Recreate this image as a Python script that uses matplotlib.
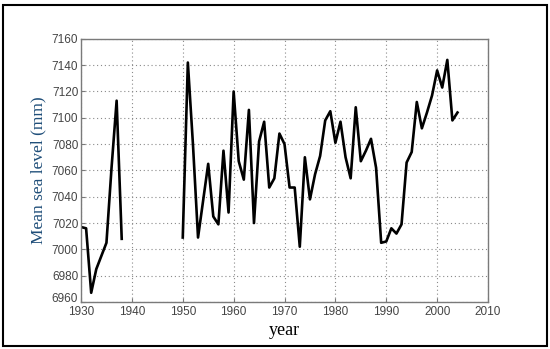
import numpy as np
import matplotlib
matplotlib.use("Agg")
import matplotlib.pyplot as plt
from matplotlib.patches import Rectangle
from matplotlib.transforms import ScaledTranslation

# annual mean sea level, gap 1939-1949
years_early = [1930, 1931, 1932, 1933, 1934, 1935, 1936, 1937, 1938]
msl_early = [7017, 7016, 6967, 6985, 6995, 7005, 7062, 7113, 7008]

years_late = list(range(1950, 2005))
msl_late = [7009, 7142, 7080, 7009, 7037, 7065, 7025, 7019, 7075, 7028,
            7120, 7067, 7053, 7106, 7020, 7082, 7097, 7047, 7054, 7088,
            7080, 7047, 7047, 7002, 7070, 7038, 7057, 7071, 7098, 7105,
            7081, 7097, 7070, 7054, 7108, 7067, 7075, 7084, 7062, 7005,
            7006, 7016, 7012, 7019, 7066, 7074, 7112, 7092, 7104, 7117,
            7136, 7123, 7144, 7098, 7104]

xticks = list(range(1930, 2011, 10))
yticks = list(range(6960, 7161, 20))

fig = plt.figure(figsize=(5.5, 3.49), dpi=100)
ax = fig.add_axes([0.1473, 0.1347, 0.740, 0.754])

years = years_early + [np.nan] + years_late
msl = msl_early + [np.nan] + msl_late
ax.plot(years, msl, color="black", lw=1.9)

ax.set_xlim(1930, 2010)
ax.set_ylim(6960, 7160)
ax.set_xticks(xticks)
ax.set_yticks(yticks)
ax.grid(True, linestyle=(0, (1, 2.5)), color="#8a8a8a", lw=0.8)
for s in ax.spines.values():
    s.set_color("#7a7a7a")
    s.set_linewidth(1.0)
ax.tick_params(direction="in", length=3, color="#7a7a7a", labelcolor="#444444",
               labelsize=8.5)
ax.tick_params(axis="x", pad=3)
ax.tick_params(axis="y", pad=2)
for lab in ax.get_xticklabels() + ax.get_yticklabels():
    lab.set_family("Liberation Sans")

# lift the bottom y label a little, as in the original, so it clears "1930"
fig.canvas.draw()
ylabs = ax.get_yticklabels()
ylabs[0].set_transform(ylabs[0].get_transform() + ScaledTranslation(0, 3 / 72, fig.dpi_scale_trans))

ax.set_xlabel("year", family="Liberation Serif", fontsize=13, color="black", labelpad=3)
ax.set_ylabel("Mean sea level (mm)", family="Liberation Serif", fontsize=12.5,
              color="#1f4e79", labelpad=4)

# outer frame around the whole picture
fig.patches.append(Rectangle((0.006, 0.008), 0.988, 0.978, transform=fig.transFigure,
                             fill=False, edgecolor="black", lw=1.5))

fig.savefig("out.png", dpi=100)
